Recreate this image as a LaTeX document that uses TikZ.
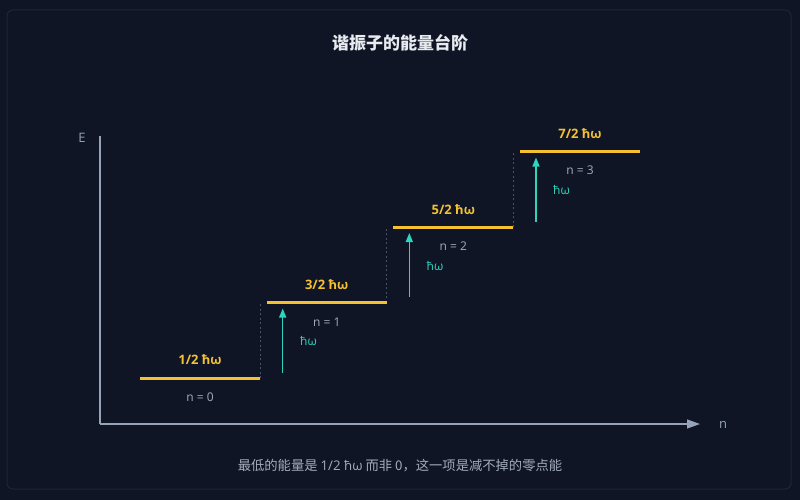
\documentclass[tikz,border=0pt]{standalone}
\usepackage{fontspec}
\setmainfont{Open Sans}
\newfontfamily\cjk{Noto Sans CJK SC}
\newfontfamily\lat{Open Sans}
\usetikzlibrary{arrows.meta}
\definecolor{bg}{HTML}{0F1524}
\definecolor{frame}{HTML}{1E2635}
\definecolor{axis}{HTML}{94A3B8}
\definecolor{gold}{HTML}{F5C133}
\definecolor{teal}{HTML}{2DD4BF}
\definecolor{lbl}{HTML}{A3ACBA}
\definecolor{titlec}{HTML}{E8EBF0}
\definecolor{dotc}{HTML}{475264}
\tikzset{
  level/.style={draw=gold, line width=3pt},
  energy/.style={text=gold, font=\fontsize{13}{15}\selectfont\bfseries, inner sep=0pt},
  nlabel/.style={text=lbl, font=\fontsize{12}{14}\selectfont, inner sep=0pt},
  quant/.style={draw=teal, line width=1.3pt, -{Triangle[length=9pt,width=7pt]}},
  quantlbl/.style={text=teal, font=\fontsize{12}{14}\selectfont, inner sep=0pt},
  guide/.style={draw=dotc, line width=0.8pt, dash pattern=on 2pt off 2.5pt},
  axisline/.style={draw=axis, line width=1.3pt},
}
\begin{document}
\begin{tikzpicture}[x=1pt,y=-1pt]
\useasboundingbox (0,0) rectangle (800,500);
\fill[bg] (0,0) rectangle (800,500);
\draw[frame, line width=1pt, rounded corners=6pt] (7,10) rectangle (791,489);
\node[text=titlec, font=\cjk\fontsize{17}{20}\selectfont\bfseries] (title) at (400,43) {谐振子的能量台阶};
% axes
\coordinate (o) at (100,424);
\coordinate (ytop) at (100,136);
\coordinate (xend) at (700,424);
\draw[axisline] (o) -- (ytop);
\draw[axisline, -{Triangle[length=13pt,width=9pt]}] (o) -- (xend);
\node[text=axis, font=\fontsize{13}{15}\selectfont, inner sep=0pt] (E) at (82,138) {E};
\node[text=axis, font=\fontsize{13}{15}\selectfont, inner sep=0pt] (nax) at (723,425) {n};
% levels
\coordinate (l0a) at (140,378.3); \coordinate (l0b) at (260,378.3);
\coordinate (l1a) at (266.7,302.8); \coordinate (l1b) at (386.7,302.8);
\coordinate (l2a) at (393.3,227.2); \coordinate (l2b) at (513.3,227.2);
\coordinate (l3a) at (520,151.7); \coordinate (l3b) at (640,151.7);
% guides
\draw[guide] (l0b) -- (260,302.8);
\draw[guide] (l1b) -- (386.7,227.2);
\draw[guide] (l2b) -- (513.3,151.7);
\draw[level] (l0a) -- (l0b);
\draw[level] (l1a) -- (l1b);
\draw[level] (l2a) -- (l2b);
\draw[level] (l3a) -- (l3b);
\node[energy] (e0) at (200,360) {1/2 ħω};
\node[energy] (e1) at (326.7,285) {3/2 ħω};
\node[energy] (e2) at (453.3,210) {5/2 ħω};
\node[energy] (e3) at (580,134) {7/2 ħω};
\node[nlabel] (n0) at (200,397) {n = 0};
\node[nlabel] (n1) at (326.7,322) {n = 1};
\node[nlabel] (n2) at (453.3,246) {n = 2};
\node[nlabel] (n3) at (580,170) {n = 3};
% arrows
\coordinate (a1s) at (282.7,372.5); \coordinate (a1e) at (282.7,308.5);
\coordinate (a2s) at (409.3,297); \coordinate (a2e) at (409.3,233);
\coordinate (a3s) at (536,221.5); \coordinate (a3e) at (536,157.5);
\draw[quant] (a1s) -- (a1e);
\draw[quant] (a2s) -- (a2e);
\draw[quant] (a3s) -- (a3e);
\node[quantlbl] (q1) at (308.5,341) {ħω};
\node[quantlbl] (q2) at (435,266) {ħω};
\node[quantlbl] (q3) at (561.5,190) {ħω};
\node[text=lbl, font=\cjk\fontsize{13.3}{15}\selectfont, inner sep=0pt] (cap) at (400,466) {最低的能量是 {\lat 1/2 ħω} 而非 0，这一项是减不掉的零点能};
\end{tikzpicture}
\end{document}
